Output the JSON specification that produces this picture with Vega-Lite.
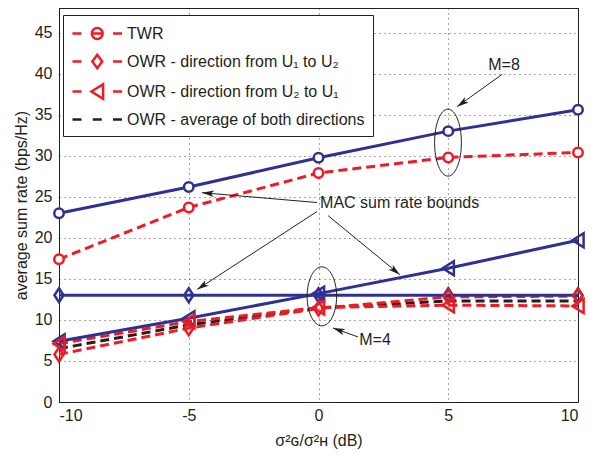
{
  "$schema": "https://vega.github.io/schema/vega-lite/v6.json",
  "width": 519,
  "height": 394,
  "autosize": {"type": "none"},
  "padding": {"left": 59, "top": 8, "right": 17, "bottom": 58},
  "background": "white",
  "config": {
    "font": "Liberation Sans",
    "view": {"stroke": "#231f20", "strokeWidth": 1},
    "axis": {
      "domainColor": "#231f20", "labelColor": "#231f20", "titleColor": "#231f20",
      "labelFont": "Liberation Sans", "titleFont": "Liberation Sans",
      "labelFontSize": 16, "titleFontSize": 16, "titleFontWeight": "normal",
      "tickSize": 0, "gridColor": "#231f20", "gridDash": [1, 4], "gridOpacity": 0.8, "gridWidth": 1,
      "labelExpr": "'' + datum.value"
    },
    "axisX": {"labelPadding": 5, "titlePadding": 9},
    "axisY": {"labelPadding": 7, "titlePadding": 5}
  },
  "datasets": {
    "series": [
      {"s": "TWR", "x": -10, "y": 17.4}, {"s": "TWR", "x": -5, "y": 23.7}, {"s": "TWR", "x": 0, "y": 27.9}, {"s": "TWR", "x": 5, "y": 29.8}, {"s": "TWR", "x": 10, "y": 30.4},
      {"s": "OWR - direction from U₁ to U₂", "x": -10, "y": 5.8}, {"s": "OWR - direction from U₁ to U₂", "x": -5, "y": 9.0}, {"s": "OWR - direction from U₁ to U₂", "x": 0, "y": 11.4}, {"s": "OWR - direction from U₁ to U₂", "x": 5, "y": 12.8}, {"s": "OWR - direction from U₁ to U₂", "x": 10, "y": 12.9},
      {"s": "OWR - direction from U₂ to U₁", "x": -10, "y": 7.1}, {"s": "OWR - direction from U₂ to U₁", "x": -5, "y": 9.8}, {"s": "OWR - direction from U₂ to U₁", "x": 0, "y": 11.5}, {"s": "OWR - direction from U₂ to U₁", "x": 5, "y": 11.8}, {"s": "OWR - direction from U₂ to U₁", "x": 10, "y": 11.7},
      {"s": "OWR - average of both directions", "x": -10, "y": 6.5}, {"s": "OWR - average of both directions", "x": -5, "y": 9.4}, {"s": "OWR - average of both directions", "x": 0, "y": 11.45}, {"s": "OWR - average of both directions", "x": 5, "y": 12.3}, {"s": "OWR - average of both directions", "x": 10, "y": 12.3},
      {"s": "MAC M=8", "x": -10, "y": 23.0}, {"s": "MAC M=8", "x": -5, "y": 26.2}, {"s": "MAC M=8", "x": 0, "y": 29.75}, {"s": "MAC M=8", "x": 5, "y": 33.0}, {"s": "MAC M=8", "x": 10, "y": 35.6},
      {"s": "MAC M=4 TWR", "x": -10, "y": 13.0}, {"s": "MAC M=4 TWR", "x": -5, "y": 13.0}, {"s": "MAC M=4 TWR", "x": 0, "y": 13.0}, {"s": "MAC M=4 TWR", "x": 5, "y": 13.0}, {"s": "MAC M=4 TWR", "x": 10, "y": 13.0},
      {"s": "MAC M=4 OWR", "x": -10, "y": 7.4}, {"s": "MAC M=4 OWR", "x": -5, "y": 10.2}, {"s": "MAC M=4 OWR", "x": 0, "y": 13.2}, {"s": "MAC M=4 OWR", "x": 5, "y": 16.3}, {"s": "MAC M=4 OWR", "x": 10, "y": 19.7}
    ],
    "arrows": [
      {"x": -0.06, "y": 24.3, "x2": -4.49, "y2": 25.5},
      {"x": -0.06, "y": 23.2, "x2": -4.68, "y2": 13.7},
      {"x": 0.37, "y": 22.7, "x2": 3.14, "y2": 15.5},
      {"x": 7.07, "y": 39.9, "x2": 5.34, "y2": 35.98},
      {"x": 1.52, "y": 7.93, "x2": 0.56, "y2": 9.02}
    ]
  },
  "encoding": {
    "x": {"field": "x", "type": "quantitative", "scale": {"domain": [-10, 10], "nice": false},
      "axis": {"values": [-10, -5, 0, 5, 10], "title": "σ²ɢ/σ²ʜ  (dB)"}},
    "y": {"field": "y", "type": "quantitative", "scale": {"domain": [0, 48], "nice": false},
      "axis": {"values": [0, 5, 10, 15, 20, 25, 30, 35, 40, 45], "title": "average sum rate (bps/Hz)"}}
  },
  "layer": [
    {
      "data": {"name": "series"},
      "transform": [{"filter": "datum.s === 'OWR - average of both directions'"}],
      "mark": {"type": "line", "color": "#231f20", "strokeWidth": 3, "strokeDash": [9, 5], "strokeCap": "butt"}
    },
    {
      "data": {"name": "series"},
      "transform": [{"filter": "datum.s === 'TWR' || datum.s === 'OWR - direction from U₁ to U₂' || datum.s === 'OWR - direction from U₂ to U₁'"}],
      "mark": {"type": "line", "color": "#ed1c24", "strokeWidth": 3, "strokeDash": [9, 5], "strokeCap": "butt"},
      "encoding": {"detail": {"field": "s"}}
    },
    {
      "data": {"name": "series"},
      "transform": [{"filter": "indexof(datum.s, 'MAC') === 0"}],
      "mark": {"type": "line", "color": "#2e3192", "strokeWidth": 3},
      "encoding": {"detail": {"field": "s"}}
    },
    {
      "data": {"name": "series"},
      "transform": [{"filter": "datum.s === 'MAC M=8'"}],
      "mark": {"type": "point", "shape": "circle", "size": 90, "filled": false, "stroke": "#2e3192", "fill": "white", "strokeWidth": 2.5, "opacity": 1}
    },
    {
      "data": {"name": "series"},
      "transform": [{"filter": "datum.s === 'MAC M=4 TWR'"}],
      "mark": {"type": "point", "shape": "M0,-1 L0.65,0 L0,1 L-0.65,0 Z", "size": 196, "filled": false, "stroke": "#2e3192", "strokeWidth": 2.5, "opacity": 1}
    },
    {
      "data": {"name": "series"},
      "transform": [{"filter": "datum.s === 'MAC M=4 OWR'"}],
      "mark": {"type": "point", "shape": "M-0.8,0 L0.8,-1 L0.8,1 Z", "size": 196, "filled": false, "stroke": "#2e3192", "strokeWidth": 2.5, "opacity": 1}
    },
    {
      "data": {"name": "series"},
      "transform": [{"filter": "datum.s === 'TWR'"}],
      "mark": {"type": "point", "shape": "circle", "size": 90, "filled": false, "stroke": "#ed1c24", "fill": "white", "strokeWidth": 2.5, "opacity": 1}
    },
    {
      "data": {"name": "series"},
      "transform": [{"filter": "datum.s === 'OWR - direction from U₁ to U₂'"}],
      "mark": {"type": "point", "shape": "M0,-1 L0.65,0 L0,1 L-0.65,0 Z", "size": 196, "filled": false, "stroke": "#ed1c24", "strokeWidth": 2.5, "opacity": 1}
    },
    {
      "data": {"name": "series"},
      "transform": [{"filter": "datum.s === 'OWR - direction from U₂ to U₁'"}],
      "mark": {"type": "point", "shape": "M-0.8,0 L0.8,-1 L0.8,1 Z", "size": 196, "filled": false, "stroke": "#ed1c24", "strokeWidth": 2.5, "opacity": 1}
    },
    {
      "data": {"name": "arrows"},
      "mark": {"type": "rule", "color": "#231f20", "strokeWidth": 1},
      "encoding": {"x2": {"field": "x2"}, "y2": {"field": "y2"}}
    },
    {
      "data": {"values": [{"x": -4.49, "y": 25.5}]},
      "mark": {"type": "point", "shape": "M0,0 L0.55,2 L0,1.5 L-0.55,2 Z", "size": 144, "filled": true, "fill": "#231f20", "strokeWidth": 0, "opacity": 1, "angle": 275}
    },
    {
      "data": {"values": [{"x": -4.68, "y": 13.7}]},
      "mark": {"type": "point", "shape": "M0,0 L0.55,2 L0,1.5 L-0.55,2 Z", "size": 144, "filled": true, "fill": "#231f20", "strokeWidth": 0, "opacity": 1, "angle": 237}
    },
    {
      "data": {"values": [{"x": 3.14, "y": 15.5}]},
      "mark": {"type": "point", "shape": "M0,0 L0.55,2 L0,1.5 L-0.55,2 Z", "size": 144, "filled": true, "fill": "#231f20", "strokeWidth": 0, "opacity": 1, "angle": 129}
    },
    {
      "data": {"values": [{"x": 5.34, "y": 35.98}]},
      "mark": {"type": "point", "shape": "M0,0 L0.55,2 L0,1.5 L-0.55,2 Z", "size": 144, "filled": true, "fill": "#231f20", "strokeWidth": 0, "opacity": 1, "angle": 235}
    },
    {
      "data": {"values": [{"x": 0.56, "y": 9.02}]},
      "mark": {"type": "point", "shape": "M0,0 L0.55,2 L0,1.5 L-0.55,2 Z", "size": 144, "filled": true, "fill": "#231f20", "strokeWidth": 0, "opacity": 1, "angle": 290}
    },
    {
      "data": {"values": [{"x": 4.99, "y": 31.6}]},
      "mark": {"type": "point", "shape": "M0,-1 A0.4,1 0 1,1 0,1 A0.4,1 0 1,1 0,-1 Z", "size": 4489, "filled": false, "stroke": "#231f20", "strokeWidth": 1, "opacity": 1}
    },
    {
      "data": {"values": [{"x": 0.13, "y": 12.87}]},
      "mark": {"type": "point", "shape": "M0,-1 A0.5,1 0 1,1 0,1 A0.5,1 0 1,1 0,-1 Z", "size": 3481, "filled": false, "stroke": "#231f20", "strokeWidth": 1, "opacity": 1}
    },
    {
      "data": {"values": [{"x": 0.06, "y": 24.3, "t": "MAC sum rate bounds"}]},
      "mark": {"type": "text", "align": "left", "baseline": "middle", "fontSize": 16, "font": "Liberation Sans", "color": "#231f20"},
      "encoding": {"text": {"field": "t"}}
    },
    {
      "data": {"values": [{"x": 7.15, "y": 41.1, "t": "M=8"}, {"x": 2.18, "y": 7.56, "t": "M=4"}]},
      "mark": {"type": "text", "align": "center", "baseline": "middle", "fontSize": 16, "font": "Liberation Sans", "color": "#231f20"},
      "encoding": {"text": {"field": "t"}}
    },
    {
      "data": {"name": "series"},
      "transform": [{"filter": "false"}],
      "mark": {"type": "point", "filled": false, "opacity": 1},
      "encoding": {
        "shape": {"field": "s", "type": "nominal",
          "scale": {"domain": ["TWR", "OWR - direction from U₁ to U₂", "OWR - direction from U₂ to U₁", "OWR - average of both directions"],
            "range": [
              "M-1,0 L0,0 M1.15,0 L2.35,0 M3.5,0 L4.5,0 M2.35,0 A0.6,0.6 0 1,1 1.15,0 A0.6,0.6 0 1,1 2.35,0",
              "M-1,0 L0,0 M3.5,0 L4.5,0 M1.75,-0.75 L2.3,0 L1.75,0.75 L1.2,0 Z",
              "M-1,0 L0,0 M3.5,0 L4.5,0 M1.1,0 L2.4,-0.8 L2.4,0.8 Z",
              "M-1,0 L0,0 M1.25,0 L2.25,0 M3.5,0 L4.5,0"
            ]},
          "legend": {"title": null, "orient": "none", "legendX": 4, "legendY": 7, "symbolSize": 324, "symbolStrokeWidth": 2.5, "symbolFillColor": "transparent",
            "labelFontSize": 16, "labelFont": "Liberation Sans", "labelColor": "#231f20", "labelOffset": 35, "padding": 8, "rowPadding": 5,
            "strokeColor": "#231f20", "fillColor": "white", "labelLimit": 400,
            "encode": {"legend": {"update": {"strokeWidth": {"value": 1.5}}}}}},
        "stroke": {"field": "s", "type": "nominal",
          "scale": {"domain": ["TWR", "OWR - direction from U₁ to U₂", "OWR - direction from U₂ to U₁", "OWR - average of both directions"],
            "range": ["#ed1c24", "#ed1c24", "#ed1c24", "#231f20"]},
          "legend": {"title": null, "orient": "none", "legendX": 4, "legendY": 7, "symbolSize": 324, "symbolStrokeWidth": 2.5, "symbolFillColor": "transparent",
            "labelFontSize": 16, "labelFont": "Liberation Sans", "labelColor": "#231f20", "labelOffset": 35, "padding": 8, "rowPadding": 5,
            "strokeColor": "#231f20", "fillColor": "white", "labelLimit": 400,
            "encode": {"legend": {"update": {"strokeWidth": {"value": 1.5}}}}}}
      }
    }
  ]
}
